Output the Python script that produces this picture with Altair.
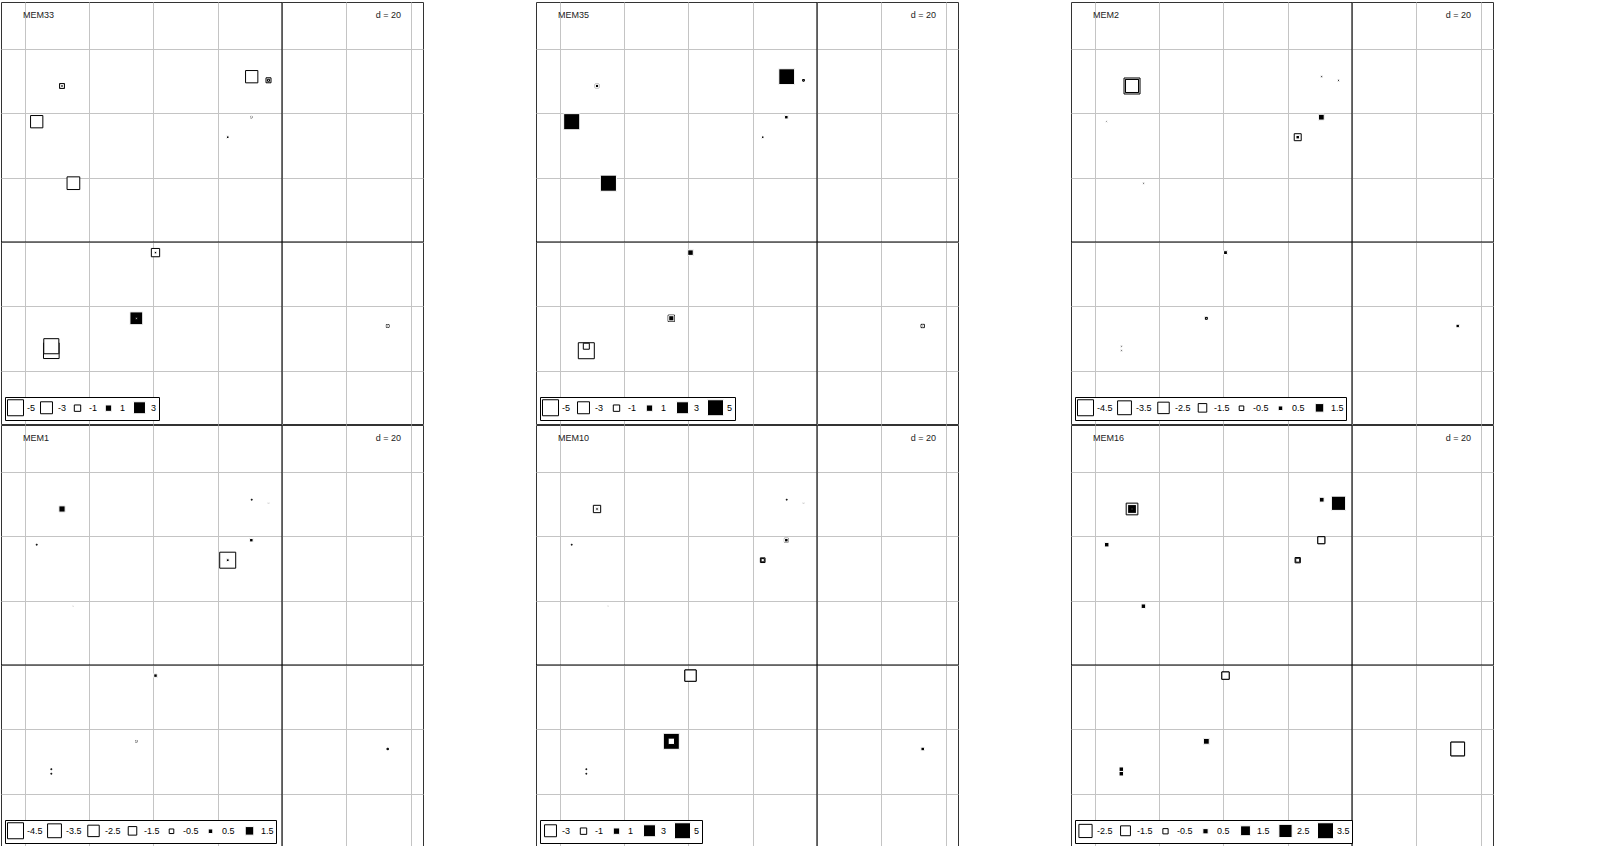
import altair as alt
import pandas as pd

# ---- site coordinates (shared by all panels) ----
SITE_X = [-68.39, -68.39, -68.39, -9.42, -4.20, -4.20, -76.26, -9.54, -9.54, -16.88,
          -16.88, -64.85, -39.33, -39.33, -45.29, -45.29, -71.72, -71.72, 32.86, 32.86]
SITE_Y = [48.50, 48.50, 48.50, 51.39, 50.27, 50.27, 37.40, 38.80, 38.80, 32.58,
          32.58, 18.28, -3.30, -3.30, -23.72, -23.72, -32.4, -33.8, -26.11, -26.11]

# ---- values of each map ----
MEM33 = [-0.58, 0.19, -0.58, -3.15, -0.65, -0.13, -3.15, -0.08, 0.06, 0.2,
         0.2, -3.33, -1.58, 0.19, 3.38, -0.13, -4.5, -4.8, -0.22, 0.1]
MEM35 = [-0.35, 0.3, 0.3, 4.89, -0.08, -0.08, 5.05, 0.35, 0.35, 0.19,
         0.19, 5.05, 0.77, 0.77, 0.69, -0.98, -0.9, -5.0, -0.31, 0.1]
MEM2 = [-4.5, -3.13, -3.13, 0.12, 0.12, 0.12, 0.08, 0.76, 0.76, -1.05,
        0.31, 0.1, 0.36, 0.36, 0.3, -0.1, 0.1, 0.1, 0.3, 0.3]
MEM1 = [0.86, 0.86, 0.86, -0.03, 0.05, 0.05, -0.03, 0.31, 0.31, -4.5,
        0.21, 0.05, 0.31, 0.31, -0.08, 0.05, -0.03, -0.03, -0.05, -0.05]
MEM10 = [-1.27, 0.19, 0.19, -0.03, 0.06, 0.06, -0.03, -0.4, 0.35, -0.58,
         -0.3, 0.05, -2.71, -2.71, 5.0, -0.98, -0.03, -0.03, 0.35, 0.35]
MEM16 = [-2.02, 1.23, -0.05, 0.42, 2.84, 2.84, 0.38, -0.82, -0.82, -0.5,
         -0.3, 0.38, -0.89, -0.89, 0.6, 0.6, 0.38, 0.38, -2.67, -2.67]

PANEL_NAMES = ["MEM33", "MEM35", "MEM2", "MEM1", "MEM10", "MEM16"]
PANEL_VALUES = [MEM33, MEM35, MEM2, MEM1, MEM10, MEM16]
LEGEND_VALUES = [
    [-5, -3, -1, 1, 3],
    [-5, -3, -1, 1, 3, 5],
    [-4.5, -3.5, -2.5, -1.5, -0.5, 0.5, 1.5],
    [-4.5, -3.5, -2.5, -1.5, -0.5, 0.5, 1.5],
    [-3, -1, 1, 3, 5],
    [-2.5, -1.5, -0.5, 0.5, 1.5, 2.5, 3.5],
]

GRID_X = [-80, -60, -40, -20, 0, 20, 40]
GRID_Y = [-40, -20, 0, 20, 40, 60]
X_DOMAIN = [-87.36, 43.83]
Y_DOMAIN = [-56.58, 74.61]
D_LABEL = "d = 20"

FONT = "Liberation Sans"
W = 422
H = 422


def panel(name, values, legvals):
    m = max(abs(v) for v in legvals)
    dom = [-m, -1e-6, 1e-6, m]
    df = pd.DataFrame({"x": SITE_X, "y": SITE_Y, "value": values})
    leg = alt.Legend(
        values=legvals, orient="bottom-left", direction="horizontal",
        columns=len(legvals), title=None, symbolType="square", type="symbol",
        labelFontSize=9, labelFont=FONT, labelColor="black",
        labelExpr="'' + datum.value",
        strokeColor="black", fillColor="white", padding=2, offset=4,
        columnPadding=2, labelOffset=3, symbolStrokeWidth=1,
        gridAlign="all", rowPadding=0, cornerRadius=0,
    )
    xs = alt.Scale(domain=X_DOMAIN, nice=False, zero=False)
    ys = alt.Scale(domain=Y_DOMAIN, nice=False, zero=False)
    xaxis = alt.Axis(values=GRID_X, labels=False, ticks=False, domain=False,
                     title=None, grid=True, gridColor="#c4c4c4", gridWidth=1)
    yaxis = alt.Axis(values=GRID_Y, labels=False, ticks=False, domain=False,
                     title=None, grid=True, gridColor="#c4c4c4", gridWidth=1)

    origin = pd.DataFrame({"o": [0]})
    vrule = alt.Chart(origin).mark_rule(color="#222", strokeWidth=1.3).encode(
        x=alt.X("o:Q", scale=xs, axis=xaxis))
    hrule = alt.Chart(origin).mark_rule(color="black", strokeWidth=1).encode(
        y=alt.Y("o:Q", scale=ys, axis=yaxis))

    pts = alt.Chart(df).transform_calculate(
        absval="abs(datum.value)"
    ).mark_point(shape="square", filled=True, opacity=1, strokeWidth=1).encode(
        x=alt.X("x:Q", scale=xs, axis=xaxis),
        y=alt.Y("y:Q", scale=ys, axis=yaxis),
        size=alt.Size("value:Q", scale=alt.Scale(type="pow", exponent=1.14, domain=dom,
                                                 range=[256, 0, 0, 256], nice=False, zero=False),
                      legend=leg),
        fill=alt.Fill("value:Q", scale=alt.Scale(type="linear", domain=dom,
                                                 range=["white", "white", "black", "black"],
                                                 nice=False, zero=False),
                      legend=leg),
        stroke=alt.Stroke("value:Q", scale=alt.Scale(type="linear", domain=dom,
                                                     range=["black", "black", "white", "white"],
                                                     nice=False, zero=False),
                          legend=leg),
        order=alt.Order("absval:Q", sort="descending"),
    )

    title = alt.Chart(pd.DataFrame({"t": [name]})).mark_text(
        align="left", baseline="middle", fontSize=9, font=FONT, color="#222"
    ).encode(text="t:N", x=alt.value(22), y=alt.value(13))
    dlab = alt.Chart(pd.DataFrame({"t": [D_LABEL]})).mark_text(
        align="right", baseline="middle", fontSize=9, font=FONT, color="#222"
    ).encode(text="t:N", x=alt.value(400), y=alt.value(13))

    return alt.layer(vrule, hrule, pts, title, dlab).properties(width=W, height=H)


panels = [panel(n, v, l) for n, v, l in zip(PANEL_NAMES, PANEL_VALUES, LEGEND_VALUES)]

chart = alt.concat(
    *panels, columns=3,
    spacing=alt.RowColnumber(row=1, column=113), bounds="flush"
).resolve_scale(
    x="independent", y="independent",
    size="independent", fill="independent", stroke="independent"
).resolve_legend(
    size="independent", fill="independent", stroke="independent"
).properties(padding=0).configure_view(
    stroke="#333", strokeWidth=1
).configure_axis(minExtent=0, maxExtent=0)

chart.save("out.html", embed_options={"renderer": "svg", "actions": False})
